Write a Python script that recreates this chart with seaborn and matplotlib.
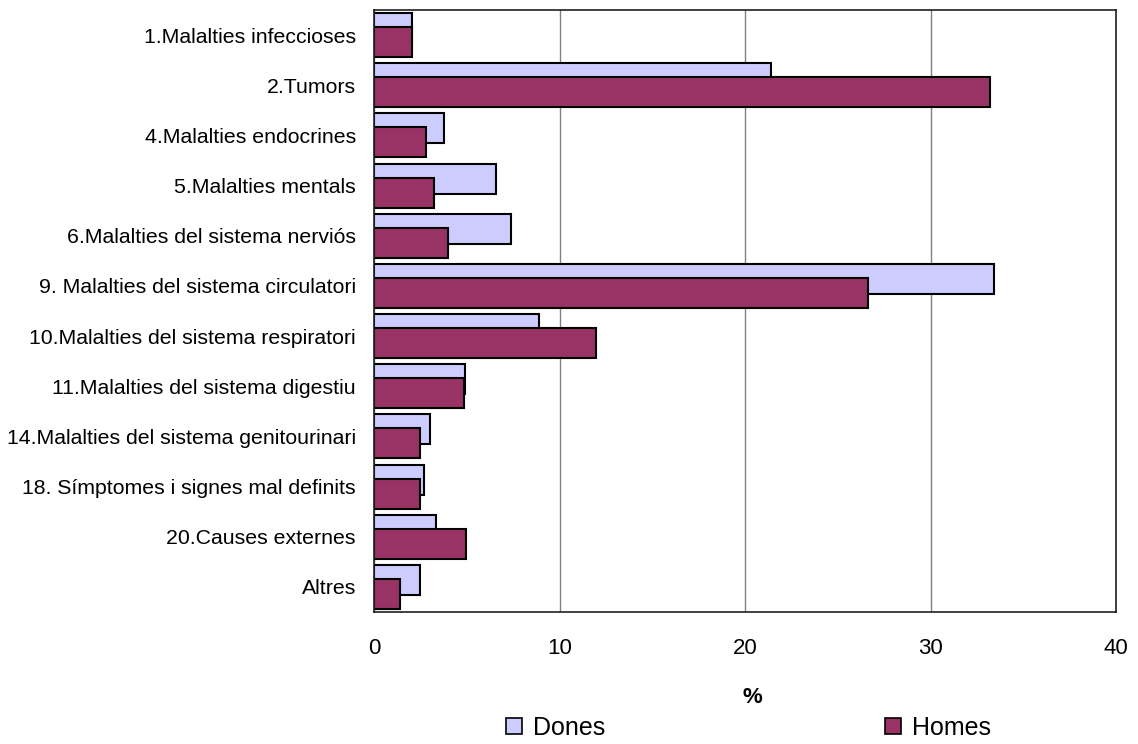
import pandas as pd
import matplotlib.pyplot as plt
import seaborn as sns
from matplotlib.patches import Patch

# causes of death, % by sex
categories = [
    "1.Malalties infeccioses",
    "2.Tumors",
    "4.Malalties endocrines",
    "5.Malalties mentals",
    "6.Malalties del sistema nerviós",
    "9. Malalties del sistema circulatori",
    "10.Malalties del sistema respiratori",
    "11.Malalties del sistema digestiu",
    "14.Malalties del sistema genitourinari",
    "18. Símptomes i signes mal definits",
    "20.Causes externes",
    "Altres",
]
dones = [2.05, 21.4, 3.76, 6.56, 7.41, 33.44, 8.9, 4.93, 3.01, 2.67, 3.33, 2.48]
homes = [2.05, 33.2, 2.8, 3.23, 3.97, 26.64, 11.95, 4.85, 2.48, 2.48, 4.96, 1.41]
xticks = [0, 10, 20, 30, 40]

df = pd.DataFrame({"causa": categories, "Dones": dones, "Homes": homes})

sns.set_theme(style="white")
plt.rcParams["font.family"] = ["Liberation Sans", "DejaVu Sans"]
plt.rcParams["text.color"] = "black"
plt.rcParams["axes.labelcolor"] = "black"

W, H = 1138, 744
fig = plt.figure(figsize=(W / 100, H / 100), dpi=100)
ax = fig.add_axes([374 / W, (H - 612) / H, 742 / W, 602 / H])

colors = {"Dones": "#CCCCFF", "Homes": "#993366"}
shifts = {"Dones": -0.14, "Homes": 0.14}

# two overlapping bar series, Homes drawn on top
for col in ["Dones", "Homes"]:
    n0 = len(ax.patches)
    sns.barplot(data=df, x=col, y="causa", order=categories, color=colors[col],
                saturation=1, width=0.6, edgecolor="black", linewidth=1.5,
                errorbar=None, ax=ax)
    for p in ax.patches[n0:]:
        p.set_y(p.get_y() + shifts[col])

ax.set_xlim(0, 40)
ax.set_ylim(len(categories) - 0.5, -0.5)
ax.set_xticks(xticks)
ax.xaxis.grid(True, color="#808080", linewidth=1)
ax.yaxis.grid(False)
ax.set_axisbelow(True)
ax.tick_params(axis="both", length=0, colors="black")
ax.tick_params(axis="x", pad=19, labelsize=16)
ax.tick_params(axis="y", pad=13, labelsize=15.3)
for s in ax.spines.values():
    s.set_visible(True)
    s.set_color("#202020")
    s.set_linewidth(1.2)

ax.set_ylabel("")
ax.set_xlabel("%", fontsize=16, fontweight="bold")
ax.xaxis.label.set_va("center")
ax.xaxis.set_label_coords((752 - 374) / 742, (612 - 697.5) / 602)

handles = [Patch(facecolor=colors[k], edgecolor="black", linewidth=1.2) for k in ["Dones", "Homes"]]
fig.legend(handles, ["Dones", "Homes"], loc="center", bbox_to_anchor=(748.5 / W, 1 - 728 / H),
           ncol=2, frameon=False, fontsize=18, handlelength=0.64, handleheight=0.64,
           handletextpad=0.45, columnspacing=11.2)

fig.savefig("out.png", dpi=100)
